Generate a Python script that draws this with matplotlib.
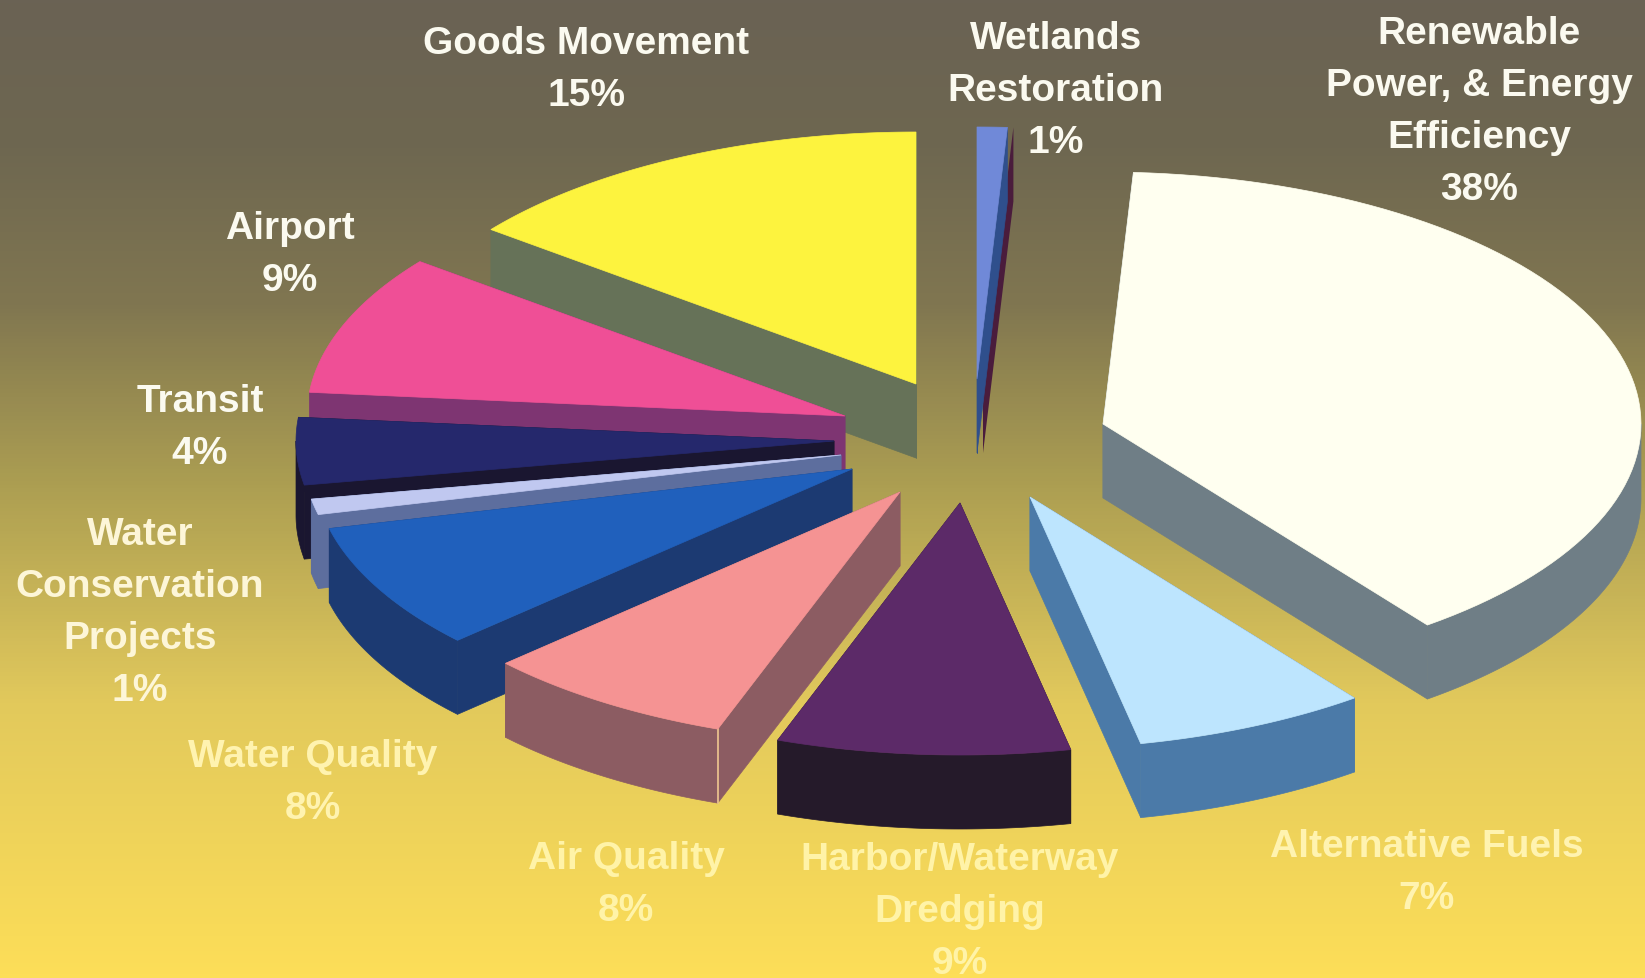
import numpy as np
import matplotlib
matplotlib.use("Agg")
import matplotlib.pyplot as plt
from matplotlib.colors import LinearSegmentedColormap
from matplotlib.patches import Polygon

# clockwise from 12 o'clock
categories = ["Wetlands\nRestoration", "Renewable\nPower, & Energy\nEfficiency", "Alternative Fuels",
              "Harbor/Waterway\nDredging", "Air Quality", "Water Quality",
              "Water\nConservation\nProjects", "Transit", "Airport", "Goods Movement"]
# printed on the chart
percents = [1, 38, 7, 9, 8, 8, 1, 4, 9, 15]
# slice sizes, the print rounds them
slice_sizes = [0.9, 38.8, 7.0, 8.8, 7.6, 8.1, 1.0, 4.3, 9.0, 14.5]

label_x = [1056, 1479, 1427, 960, 626, 313, 140, 200, 290, 586]
label_y = [91, 112, 873, 912, 885, 783, 613, 428, 255, 70]
label_colors = ["#fbfaf0", "#fbfaf0", "#fff3b0", "#fff3a8", "#fff3a8", "#fff3b0",
                "#fdf6d8", "#fbfaf0", "#fbfaf0", "#fbfaf0"]

top_colors = ["#7089d8", "#fffff0", "#bde5fe", "#5c2a68", "#f59393",
              "#2060bc", "#c0c8f0", "#25286c", "#ef4f96", "#fdf33e"]
side_colors = ["#2f4f8c", "#6f7e86", "#4b7aa8", "#251a2a", "#8c5c62",
               "#1c3a72", "#5d6e9e", "#1a1630", "#7e3572", "#667258"]

# how far each slice is pulled out of the pie centre
center_x, center_y = 950, 440
explode_x = [27, 153, 80, 10, -50, -98, -109, -116, -105, -34]
explode_y = [-60, -15, 58, 64, 53, 30, 16, 2, -23, -55]

radius_x, radius_y, depth = 538, 252, 74
# back slices first
draw_order = [9, 8, 7, 6, 5, 0, 1, 2, 4, 3]

bg_colors = [(0.0, "#6a6254"), (0.15, "#6e6750"), (0.31, "#807650"), (0.5, "#ad9f52"),
             (0.72, "#e2c95c"), (1.0, "#fdde58")]

fig = plt.figure(figsize=(16.45, 9.79), dpi=100)
ax = fig.add_axes([0, 0, 1, 1])
ax.set_xlim(0, 1645)
ax.set_ylim(979, 0)
ax.axis("off")

cmap = LinearSegmentedColormap.from_list("bg", bg_colors)
ax.imshow(np.linspace(0, 1, 256).reshape(-1, 1), cmap=cmap, aspect="auto",
          extent=(0, 1645, 979, 0), zorder=0)

ends = np.cumsum(slice_sizes) * 3.6
starts = ends - np.array(slice_sizes) * 3.6


def arc(a0, a1, x0, y0):
    t = np.radians(np.linspace(a0, a1, 80))
    return np.column_stack([x0 + radius_x * np.sin(t), y0 - radius_y * np.cos(t)])


def extrude(points):
    return np.vstack([points, (points + [0, depth])[::-1]])


z = 1
for i in draw_order:
    x0 = center_x + explode_x[i]
    y0 = center_y + explode_y[i]
    outer = arc(starts[i], ends[i], x0, y0)
    apex = np.array([[x0, y0]])

    if i == 0:
        # the thin wetlands slice shows a dark rim on its right
        rim = extrude(np.vstack([apex, outer[-1:]])) + [6, 0]
        ax.add_patch(Polygon(rim, fc="#4a1c3c", ec="none", zorder=z))

    faces = [extrude(np.vstack([apex, outer[:1]])), extrude(np.vstack([apex, outer[-1:]]))]
    lo, hi = max(starts[i], 90), min(ends[i], 270)
    if lo < hi:
        faces.append(extrude(arc(lo, hi, x0, y0)))
    for f in faces:
        ax.add_patch(Polygon(f, fc=side_colors[i], ec=side_colors[i], lw=0.5, zorder=z))

    if i == 4:
        # pale seam on the front corner of Air Quality
        ax.plot([outer[0, 0]] * 2, [outer[0, 1], outer[0, 1] + depth], color="#f0c890", lw=1.2, zorder=z)

    top = np.vstack([apex, outer])
    ax.add_patch(Polygon(top, fc=top_colors[i], ec=top_colors[i], lw=0.5, zorder=z))
    z += 1

for name, p, x, y, c in zip(categories, percents, label_x, label_y, label_colors):
    ax.text(x, y, f"{name}\n{p}%", color=c, ha="center", va="center", ma="center", fontsize=28,
            fontweight="bold", family=["Liberation Sans", "DejaVu Sans"], linespacing=1.57, zorder=50)

fig.savefig("out.png", dpi=100)
plt.close(fig)
